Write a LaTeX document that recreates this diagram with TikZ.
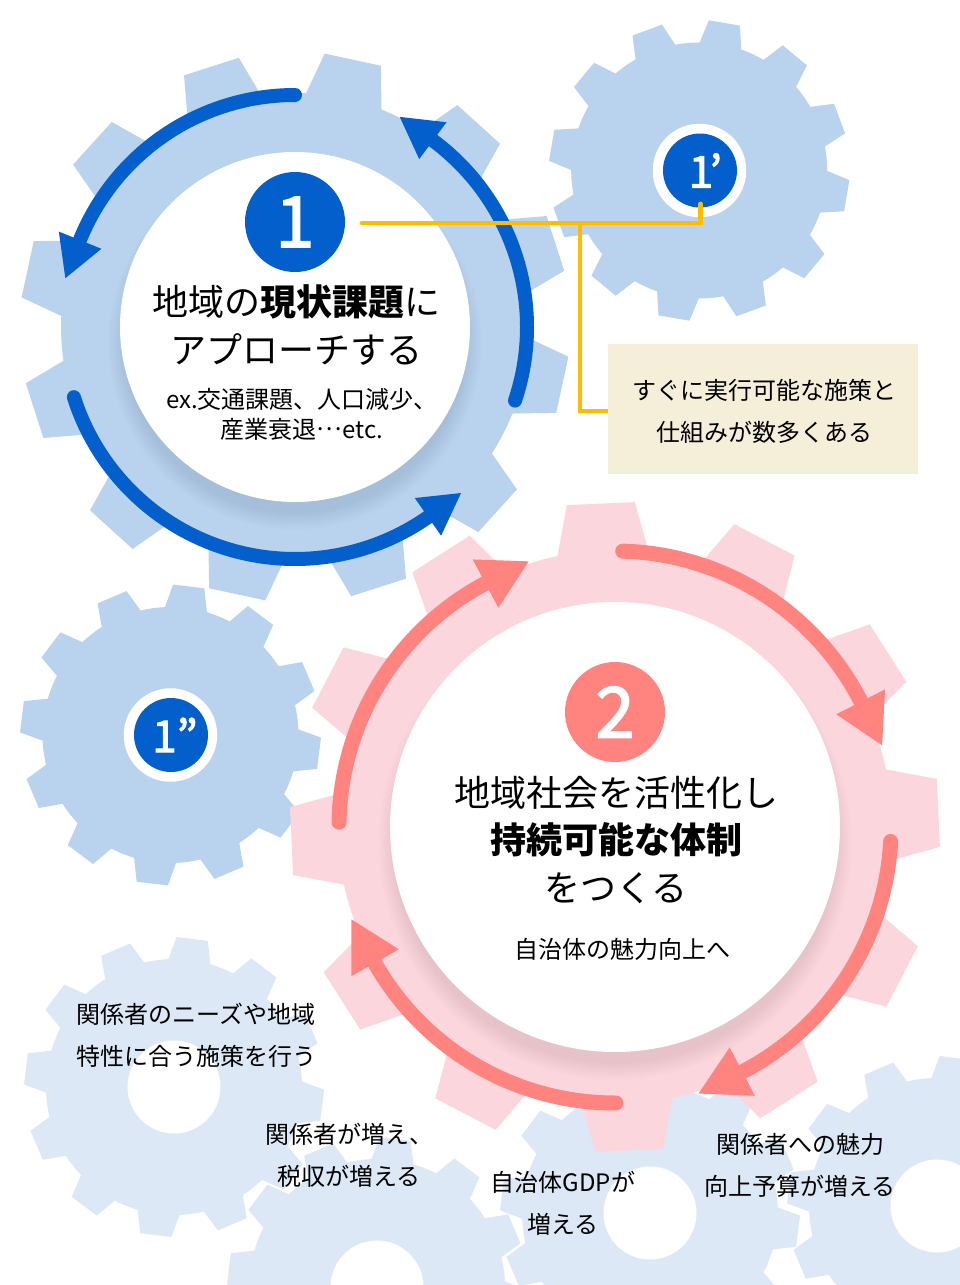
\documentclass[tikz,border=0pt]{standalone}
\usepackage{fontspec}
\setmainfont{Noto Sans CJK JP}
\newfontfamily\digitfont[FakeBold=2.4]{Noto Sans CJK JP}
\definecolor{gearblue}{HTML}{B9D2ED}
\definecolor{gearpink}{HTML}{FBD7DD}
\definecolor{gearpale}{HTML}{DCE8F6}
\definecolor{ringblue}{HTML}{035FCC}
\definecolor{ringred}{HTML}{FF8480}
\definecolor{linkyellow}{HTML}{FFBB00}
\definecolor{cardcream}{HTML}{F5EFDA}
\newcommand{\gearfill}[6]{%
  \fill[#6,shift={(#1,#2)}] ({#5-9.5}:#4)
  \foreach \k [evaluate=\k as \a using #5+30*\k] in {0,...,11}{
    -- ({\a-6}:#3) -- ({\a+6}:#3)
    -- ({\a+9.5}:#4) arc[start angle=\a+9.5,end angle=\a+20.5,radius=#4]
  } -- cycle;}
% cx cy R start base tip width colour
\newcommand{\ringarrow}[8]{%
  \begin{scope}[shift={(#1,#2)}]
    \draw[#8,line width=#7*0.75pt,line cap=round] (#4:#3) arc[start angle=#4,end angle=#5,radius=#3];
    \fill[#8] (#5:#3*0.9) -- (#6:#3*1.012) -- (#5:#3*1.098) -- cycle;
  \end{scope}}
\newcommand{\softshadow}[3]{%
  \foreach \i in {1,...,20}{\fill[black,opacity=0.0055] (#1,#2+16) circle[radius=#3-6+\i*0.9];}}
\newcommand{\fs}[1]{\fontsize{#1}{#1}\selectfont}
\tikzset{
  x=0.75pt,y=-0.75pt,
  disc/.style={circle,inner sep=0pt,text=white},
  whitedisc/.style={circle,inner sep=0pt,fill=white,minimum size=#1*0.75pt},
  title/.style={align=center,text=black,font=\fontsize{27}{35.6}\selectfont},
  body/.style={align=center,text=black,font=\fontsize{18}{22.5}\selectfont},
  note/.style={align=center,text=black,font=\fontsize{18}{31.5}\selectfont},
  link/.style={linkyellow,line width=3.6pt},
}
\begin{document}
\begin{tikzpicture}
\useasboundingbox (0,0) rectangle (960,1285);
\clip (0,0) rectangle (960,1285);
\fill[white] (0,0) rectangle (960,1285);
% pale gears
\gearfill{174}{1087}{150}{128}{-83}{gearpale}
\gearfill{377}{1287}{150}{128}{-83}{gearpale}
\gearfill{650}{1213}{150}{128}{-83}{gearpale}
\gearfill{937}{1206}{150}{128}{-83}{gearpale}
\node[whitedisc=93] (h3) at (174,1087) {};
\node[whitedisc=93] (h4) at (377,1287) {};
\node[whitedisc=93] (h5) at (650,1213) {};
\node[whitedisc=93] (h6) at (937,1206) {};
% small blue gears
\gearfill{699.2}{170.5}{150.5}{128}{-80.3}{gearblue}
\gearfill{170.5}{735}{150.5}{128}{-83}{gearblue}
% main blue gear
\gearfill{295}{327}{275}{234}{-77.8}{gearblue}
\softshadow{295}{327}{175}
\ringarrow{295}{327}{232}{-90}{-158}{-168}{14}{ringblue}
\ringarrow{295}{327}{232}{162.4}{55}{45}{14}{ringblue}
\ringarrow{295}{327}{232}{18.5}{-53.5}{-63.5}{14}{ringblue}
\node[whitedisc=350] (w1) at (295,327) {};
% main pink gear
\gearfill{615}{827}{325.5}{277}{-92.5}{gearpink}
\softshadow{615}{827}{225}
\ringarrow{615}{827}{276}{-88.4}{-27}{-17}{15}{ringred}
\ringarrow{615}{827}{276}{3}{62.5}{72.6}{15}{ringred}
\ringarrow{615}{827}{276}{89.8}{150.5}{160.7}{15}{ringred}
\ringarrow{615}{827}{276}{181}{242}{252}{15}{ringred}
\node[whitedisc=450] (w2) at (615,827) {};
% small badges
\node[whitedisc=93.5] (r1p) at (699.5,170.5) {};
\node[whitedisc=93.5] (r1q) at (170.5,735) {};
\node[disc,fill=ringblue,minimum size=55.5pt,font=\fs{33}\digitfont] (c1p) at (700,170.5) {\kern 8pt 1\kern-.08em’};
\node[disc,fill=ringblue,minimum size=55.5pt,font=\fs{33}\digitfont] (c1q) at (171,735) {\kern 6pt 1”};
\node[disc,fill=ringblue,minimum size=75pt,font=\fs{52.5}\digitfont] (c1) at (295,222) {1};
\node[disc,fill=ringred,minimum size=75pt,font=\fs{52.5}\digitfont] (c2) at (615,712) {2};
% card and connector
\node[fill=cardcream,minimum width=232.5pt,minimum height=97.5pt,inner sep=0pt] (card) at (763,409) {};
\node[note] (cardtext) at (764,411) {すぐに実行可能な施策と\\仕組みが数多くある};
\coordinate (ystart) at (362,223);
\coordinate (yjoin) at (580,223);
\coordinate (yend) at (700.3,204);
\draw[link,line cap=round,line join=miter] (ystart) -| (yend);
\draw[link,line join=miter] (yjoin) |- (card.west |- 0,411);
% labels
\node[title] (t1) at (296,325) {地域の{\bfseries 現状課題}に\\アプローチする};
\node[body] (s1) at (302,414) {ex.交通課題、人口減少、\\産業衰退\raisebox{.3em}{…}etc.};
\node[title] (t2) at (616,840) {地域社会を活性化し\\{\bfseries 持続可能な体制}\\をつくる};
\node[body] (s2) at (622,949) {自治体の魅力向上へ};
\node[note] (n1) at (196,1035) {関係者のニーズや地域\\特性に合う施策を行う};
\node[note] (n2) at (349,1155) {関係者が増え、\\税収が増える};
\node[note] (n3) at (563,1203) {自治体GDPが\\増える};
\node[note] (n4) at (800,1165) {関係者への魅力\\向上予算が増える};
\end{tikzpicture}
\end{document}
